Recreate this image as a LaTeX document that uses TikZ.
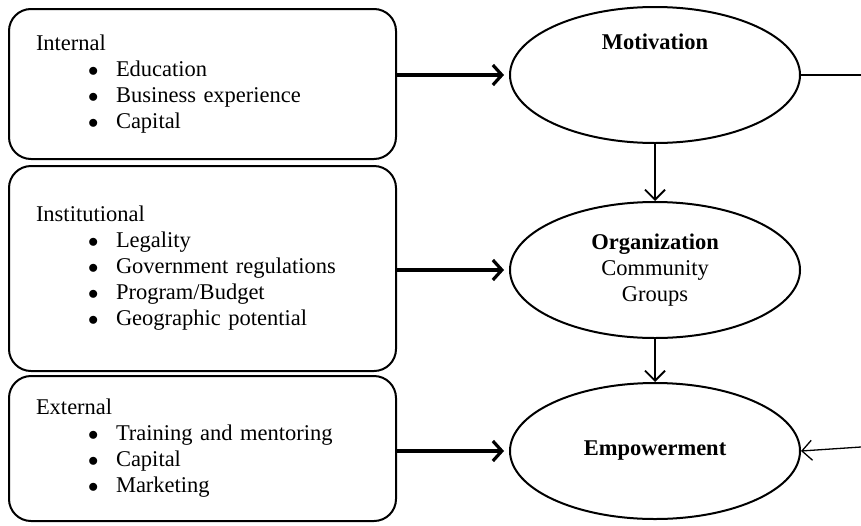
\documentclass[tikz,border=0pt]{standalone}
\usepackage{fontspec}
\setmainfont{Liberation Serif}
\usetikzlibrary{arrows.meta}
\usetikzlibrary{shapes.geometric}
\newcommand{\bitem}[1]{\hspace*{52pt}\makebox[28pt][l]{$\bullet$}#1}
\tikzset{
	factor/.style={draw,line width=2pt,rounded corners=22pt,minimum width=387pt,inner xsep=27pt,align=left,anchor=north west,text width=333pt},
	stage/.style={ellipse,draw,line width=2pt,minimum width=290pt,minimum height=136pt,inner sep=0pt,align=center},
	edge/.style={line width=3.2pt,-{Straight Barb[length=9pt,width=20pt,line width=3.2pt]}},
	link/.style={line width=1.8pt,-{Straight Barb[length=10pt,width=20pt,line width=1.8pt]}}
}
\begin{document}
\begin{tikzpicture}[x=1pt,y=-1pt,font=\fontsize{22.5}{26}\selectfont]
	\useasboundingbox (0,0) rectangle (861,525);
	\node[factor,minimum height=150pt] (internal) at (8, 8) {Internal\\
		\bitem{Education}\\
		\bitem{Business experience}\\
		\bitem{Capital}};
	\node[factor,minimum height=205pt] (institutional) at (8, 165) {Institutional\\
		\bitem{Legality}\\
		\bitem{Government regulations}\\
		\bitem{Program/Budget}\\
		\bitem{Geographic potential}};
	\node[factor,minimum height=145pt] (external) at (8, 375) {External\\
		\bitem{Training and mentoring}\\
		\bitem{Capital}\\
		\bitem{Marketing}};
	
	\node[stage] (mot) at (655, 75) {\textbf{Motivation}\\[40pt]\mbox{}};
	\node[stage] (org) at (655, 270) {\textbf{Organization}\\ Community\\ Groups};
	\node[stage] (emp) at (655, 451) {\textbf{Empowerment}};
	
	\coordinate (out) at (861, 75);
	\coordinate (back) at (861, 447);
	
	\draw[edge] (internal.east |- mot) -- ([xshift=-5pt]mot.west);
	\draw[edge] (institutional.east |- org) -- ([xshift=-5pt]org.west);
	\draw[edge] (external.east |- emp) -- ([xshift=-5pt]emp.west);
	\draw[link] (mot.south) -- (org.north);
	\draw[link] (org.south) -- (emp.north);
	\draw[line width=1.3pt] (mot.east) -- (out);
	\draw[line width=1.3pt,-{Straight Barb[length=10pt,width=20pt,line width=1.3pt]}] (back) -- (emp.east);
\end{tikzpicture}
\end{document}
